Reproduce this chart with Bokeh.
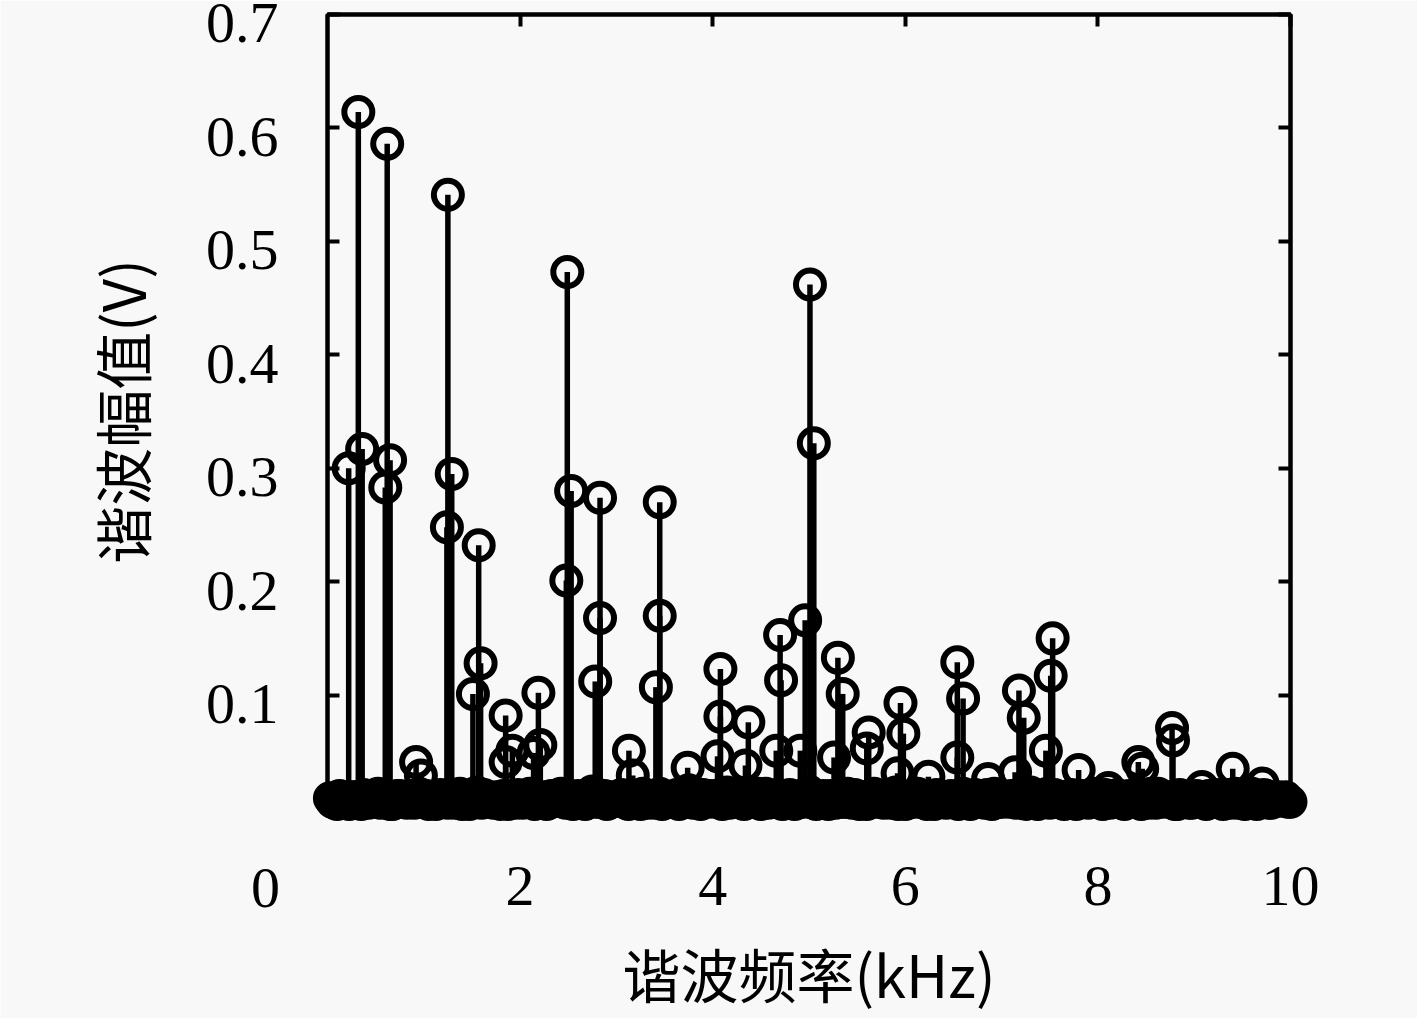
from bokeh.plotting import figure
from bokeh.models import LinearAxis, FixedTicker, Range1d, ColumnDataSource, CustomJSTickFormatter
from bokeh.core.properties import value
from bokeh.embed import file_html
from bokeh.resources import INLINE

# ---------------- data ----------------
# dominant harmonic components: frequency (kHz) and amplitude (V)
peak_freq_khz = [0.22, 0.32, 0.36, 0.60, 0.62, 0.65, 0.92, 0.97,
                 1.24, 1.25, 1.29, 1.51, 1.57, 1.59, 1.85, 1.85, 1.92,
                 2.14, 2.19, 2.21, 2.48, 2.49, 2.53, 2.78, 2.83, 2.83,
                 3.13, 3.17, 3.41, 3.45, 3.45, 3.74, 4.05, 4.08, 4.08,
                 4.34, 4.37, 4.66, 4.70, 4.71, 4.91, 4.96, 5.01, 5.05,
                 5.26, 5.30, 5.35, 5.60, 5.62, 5.92, 5.95, 5.98, 6.24,
                 6.54, 6.54, 6.60, 6.86, 7.14, 7.18, 7.23, 7.46, 7.51,
                 7.53, 7.80, 8.11, 8.42, 8.46, 8.77, 8.78, 9.08, 9.40, 9.71]
peak_amp_v = [0.300, 0.614, 0.317, 0.283, 0.586, 0.307, 0.041, 0.029,
              0.248, 0.541, 0.295, 0.101, 0.232, 0.128, 0.082, 0.041, 0.051,
              0.049, 0.102, 0.056, 0.201, 0.473, 0.280, 0.112, 0.274, 0.168,
              0.051, 0.029, 0.107, 0.270, 0.170, 0.036, 0.046, 0.123, 0.081,
              0.038, 0.076, 0.051, 0.153, 0.113, 0.051, 0.166, 0.462, 0.322,
              0.045, 0.133, 0.101, 0.053, 0.067, 0.031, 0.093, 0.066, 0.028,
              0.129, 0.045, 0.097, 0.026, 0.032, 0.104, 0.080, 0.051, 0.117,
              0.150, 0.034, 0.018, 0.041, 0.035, 0.071, 0.060, 0.019, 0.035, 0.022]

# low-level background components, indexed by harmonic order n (fundamental 50 Hz)
fundamental_khz = 0.05
base_order = list(range(1, 201))
base_amp_v = [
    0.006, 0.004, 0.008, 0.005, 0.010, 0.007, 0.004, 0.009, 0.006, 0.012, 0.005, 0.008, 0.004, 0.007, 0.011, 0.006, 0.009, 0.005, 0.013, 0.007,
    0.004, 0.010, 0.006, 0.008, 0.005, 0.012, 0.007, 0.004, 0.009, 0.006, 0.014, 0.005, 0.008, 0.006, 0.010, 0.004, 0.007, 0.011, 0.005, 0.009,
    0.006, 0.013, 0.004, 0.008, 0.010, 0.005, 0.007, 0.012, 0.006, 0.009, 0.004, 0.011, 0.007, 0.005, 0.015, 0.006, 0.008, 0.004, 0.010, 0.007,
    0.012, 0.005, 0.009, 0.006, 0.004, 0.011, 0.008, 0.005, 0.013, 0.007, 0.006, 0.010, 0.004, 0.009, 0.016, 0.005, 0.008, 0.012, 0.006, 0.007,
    0.010, 0.004, 0.014, 0.006, 0.008, 0.005, 0.011, 0.007, 0.009, 0.004, 0.013, 0.006, 0.010, 0.005, 0.008, 0.012, 0.004, 0.009, 0.006, 0.015,
    0.005, 0.008, 0.011, 0.004, 0.007, 0.010, 0.006, 0.013, 0.005, 0.009, 0.007, 0.004, 0.012, 0.006, 0.008, 0.010, 0.005, 0.014, 0.007, 0.004,
    0.009, 0.006, 0.012, 0.005, 0.008, 0.004, 0.011, 0.007, 0.010, 0.006, 0.004, 0.013, 0.008, 0.005, 0.009, 0.007, 0.012, 0.004, 0.010, 0.006,
    0.008, 0.011, 0.005, 0.009, 0.004, 0.014, 0.006, 0.007, 0.010, 0.005, 0.012, 0.008, 0.004, 0.009, 0.006, 0.011, 0.007, 0.005, 0.013, 0.008,
    0.004, 0.010, 0.007, 0.012, 0.005, 0.008, 0.006, 0.011, 0.004, 0.009, 0.013, 0.005, 0.007, 0.010, 0.006, 0.004, 0.012, 0.008, 0.005, 0.009,
    0.007, 0.005, 0.011, 0.006, 0.009, 0.004, 0.012, 0.008, 0.005, 0.010, 0.006, 0.013, 0.004, 0.008, 0.011, 0.005, 0.009, 0.007, 0.010, 0.006,
]
# interharmonic components, halfway between harmonic orders (n + 0.5)
inter_order = [n + 0.5 for n in range(0, 200)]
inter_amp_v = [
    0.009, 0.005, 0.011, 0.007, 0.004, 0.010, 0.006, 0.012, 0.005, 0.008, 0.013, 0.006, 0.009, 0.004, 0.011, 0.007, 0.005, 0.010, 0.008, 0.006,
    0.011, 0.007, 0.004, 0.012, 0.006, 0.009, 0.005, 0.013, 0.008, 0.004, 0.010, 0.006, 0.012, 0.007, 0.005, 0.009, 0.011, 0.004, 0.008, 0.012,
    0.005, 0.009, 0.012, 0.006, 0.008, 0.004, 0.011, 0.007, 0.013, 0.005, 0.009, 0.006, 0.010, 0.004, 0.008, 0.012, 0.006, 0.011, 0.005, 0.009,
    0.007, 0.011, 0.004, 0.010, 0.006, 0.013, 0.005, 0.008, 0.011, 0.004, 0.009, 0.007, 0.012, 0.005, 0.010, 0.006, 0.013, 0.004, 0.009, 0.011,
    0.006, 0.012, 0.008, 0.005, 0.010, 0.007, 0.004, 0.011, 0.006, 0.013, 0.008, 0.005, 0.009, 0.012, 0.004, 0.010, 0.007, 0.005, 0.011, 0.008,
    0.012, 0.004, 0.009, 0.007, 0.011, 0.005, 0.010, 0.006, 0.008, 0.012, 0.004, 0.009, 0.006, 0.013, 0.007, 0.005, 0.011, 0.008, 0.004, 0.010,
    0.005, 0.010, 0.013, 0.006, 0.004, 0.009, 0.012, 0.007, 0.005, 0.011, 0.008, 0.006, 0.010, 0.004, 0.012, 0.009, 0.005, 0.007, 0.013, 0.006,
    0.010, 0.006, 0.008, 0.012, 0.005, 0.007, 0.011, 0.004, 0.009, 0.013, 0.006, 0.010, 0.005, 0.008, 0.012, 0.004, 0.011, 0.007, 0.006, 0.009,
    0.008, 0.012, 0.005, 0.010, 0.007, 0.004, 0.011, 0.009, 0.006, 0.012, 0.005, 0.008, 0.013, 0.006, 0.010, 0.007, 0.004, 0.011, 0.009, 0.005,
    0.011, 0.007, 0.004, 0.009, 0.012, 0.006, 0.010, 0.005, 0.013, 0.008, 0.004, 0.011, 0.006, 0.009, 0.012, 0.005, 0.008, 0.010, 0.007, 0.006,
]

x_ticks = [2, 4, 6, 8, 10]
x_zero_label = "0"
y_ticks = [0.1, 0.2, 0.3, 0.4, 0.5, 0.6, 0.7]
x_label = "谐波频率(kHz)"
y_label = "谐波幅值(V)"
X_MIN, X_MAX = 0, 10
Y_MIN, Y_MAX = 0, 0.7

# ---------------- figure ----------------
BG = "#f8f8f8"
SERIF = "Liberation Serif"
CJK = "Noto Sans CJK SC"
TICK_FS = "58px"
LABEL_FS = "58px"

p = figure(width=1417, height=1018, output_backend="svg", toolbar_location=None,
           x_range=Range1d(X_MIN, X_MAX), y_range=Range1d(Y_MIN, Y_MAX),
           x_axis_location=None, y_axis_location=None,
           min_border_left=327, min_border_right=127, min_border_top=14, min_border_bottom=210,
           background_fill_color=BG, border_fill_color=BG,
           outline_line_color="black", outline_line_width=4)
p.grid.visible = False

# tick labels of the y axis sit slightly below their tick marks in the original
label_shift = 0.0079
p.extra_y_ranges = {"ylabels": Range1d(Y_MIN + label_shift, Y_MAX + label_shift)}

blank = CustomJSTickFormatter(code="return ''")


def tick_axis(ax):
    ax.axis_line_color = "black"
    ax.axis_line_width = 4
    ax.major_tick_in = 12
    ax.major_tick_out = 0
    ax.major_tick_line_width = 4
    ax.major_tick_line_color = "black"
    ax.minor_tick_in = 0
    ax.minor_tick_out = 0


def label_style(ax):
    ax.major_label_text_font = SERIF
    ax.major_label_text_font_size = TICK_FS
    ax.major_label_text_color = "black"
    ax.axis_label_text_font = CJK
    ax.axis_label_text_font_style = "normal"
    ax.axis_label_text_font_size = LABEL_FS
    ax.axis_label_text_color = "black"


# bottom axis: inward ticks + labels
xb = LinearAxis(ticker=FixedTicker(ticks=x_ticks), axis_label=x_label)
tick_axis(xb)
label_style(xb)
xb.major_label_standoff = 58
xb.axis_label_standoff = 23
p.add_layout(xb, "below")

# top axis: inward ticks only
xt = LinearAxis(ticker=FixedTicker(ticks=x_ticks), formatter=blank)
tick_axis(xt)
xt.major_label_standoff = 0
p.add_layout(xt, "above")

# left axis: inward ticks only
yl = LinearAxis(ticker=FixedTicker(ticks=y_ticks), formatter=blank)
tick_axis(yl)
yl.major_label_standoff = 0
p.add_layout(yl, "left")

# left labels (slightly shifted range) + axis title
yll = LinearAxis(y_range_name="ylabels", ticker=FixedTicker(ticks=y_ticks), axis_label=y_label)
label_style(yll)
yll.axis_line_color = None
yll.major_tick_line_color = None
yll.major_tick_in = 0
yll.major_tick_out = 0
yll.minor_tick_line_color = None
yll.major_label_standoff = 49
yll.axis_label_standoff = 40
p.add_layout(yll, "left")

# right axis: inward ticks only
yr = LinearAxis(ticker=FixedTicker(ticks=y_ticks), formatter=blank)
tick_axis(yr)
yr.major_label_standoff = 0
p.add_layout(yr, "right")

# stems and markers
base_freq = [n * fundamental_khz for n in base_order]
inter_freq = [n * fundamental_khz for n in inter_order]
all_x = base_freq + inter_freq + peak_freq_khz
all_y = base_amp_v + inter_amp_v + peak_amp_v
src = ColumnDataSource(dict(x=all_x, y=all_y, y0=[0.0] * len(all_x)))

p.segment(x0="x", y0="y0", x1="x", y1="y", source=src, line_color="black", line_width=5.5)
p.scatter(x="x", y="y", source=src, marker="circle", size=28, fill_color=None,
          line_color="black", line_width=6, level="overlay")

# "0" origin label, set off to the left of the frame as in the original
zero_src = ColumnDataSource(dict(x=[-0.644], y=[-0.0705], t=[x_zero_label]))
p.text(x="x", y="y", text="t", source=zero_src, text_align="center", text_baseline="middle",
       text_font=value(SERIF), text_font_size=TICK_FS, text_color="black", level="overlay")

open("out.html", "w").write(file_html(p, INLINE))
